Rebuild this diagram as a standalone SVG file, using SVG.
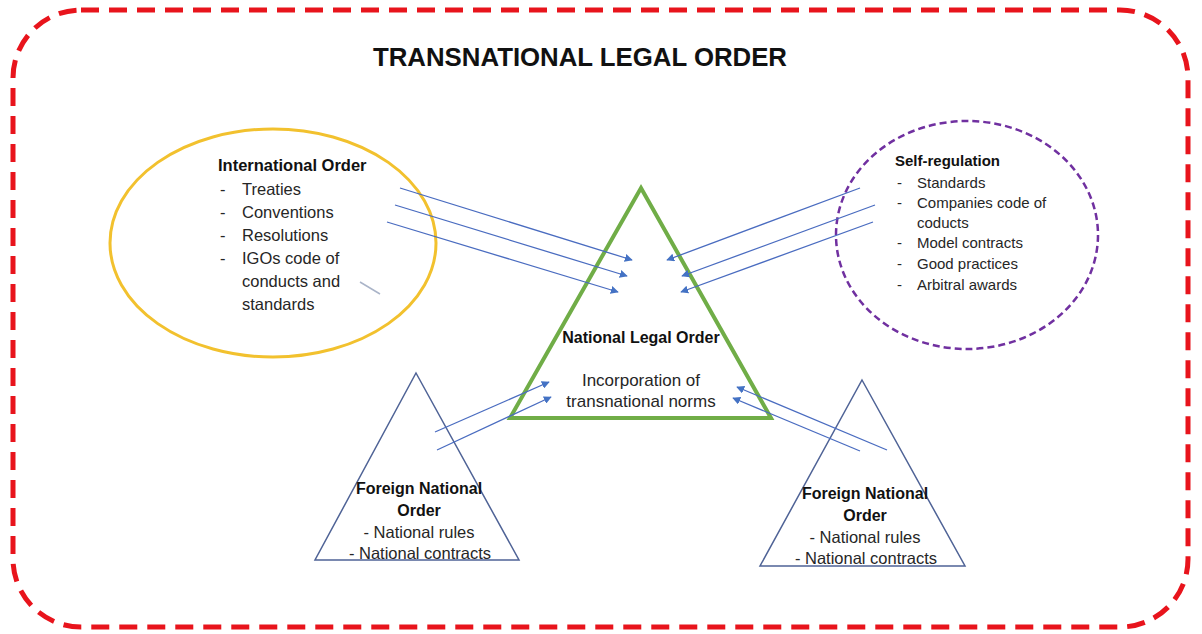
<svg xmlns="http://www.w3.org/2000/svg" width="1202" height="634" viewBox="0 0 1202 634">
<defs>
<marker id="ah" viewBox="0 0 10 10" refX="9" refY="5" markerWidth="8" markerHeight="8" markerUnits="userSpaceOnUse" orient="auto">
<path d="M0,0 L10,5 L0,10 z" fill="#4472c4"/>
</marker>
<style>
.t{font-family:"Liberation Sans",Arial,sans-serif;fill:#262626;}
.b{font-weight:bold;fill:#111;}
.c{stroke:#4a6cc0;stroke-width:1.3;fill:none;marker-end:url(#ah);}
.ft{fill:#fff;stroke:#4f6396;stroke-width:1.5;}
</style>
</defs>
<rect width="1202" height="634" fill="#fff"/>
<g id="outer">
<rect x="13" y="10" width="1175" height="617" rx="68" ry="68" fill="none" stroke="#e8141c" stroke-width="5" stroke-dasharray="18,10"/>
<text class="t b" x="580" y="66" font-size="26" text-anchor="middle" textLength="414" lengthAdjust="spacingAndGlyphs">TRANSNATIONAL LEGAL ORDER</text>
</g>
<g id="international">
<ellipse cx="273" cy="243" rx="163" ry="114" fill="none" stroke="#f2c12e" stroke-width="3"/>
<line x1="360" y1="282" x2="380" y2="294" stroke="#aab4c8" stroke-width="1.5"/>
<text class="t b" x="218" y="171" font-size="16.5">International Order</text>
<g class="t" font-size="16.5">
<text x="220" y="195">-</text><text x="242" y="195">Treaties</text>
<text x="220" y="218">-</text><text x="242" y="218">Conventions</text>
<text x="220" y="241">-</text><text x="242" y="241">Resolutions</text>
<text x="220" y="264">-</text><text x="242" y="264">IGOs code of</text>
<text x="242" y="287">conducts and</text>
<text x="242" y="310">standards</text>
</g>
</g>
<g id="selfregulation">
<ellipse cx="967" cy="235" rx="131" ry="114" fill="none" stroke="#7030a0" stroke-width="2.5" stroke-dasharray="7,4"/>
<text class="t b" x="895" y="166" font-size="15">Self-regulation</text>
<g class="t" font-size="15">
<text x="897" y="188">-</text><text x="917" y="188">Standards</text>
<text x="897" y="208">-</text><text x="917" y="208">Companies code of</text>
<text x="917" y="228">coducts</text>
<text x="897" y="248">-</text><text x="917" y="248">Model contracts</text>
<text x="897" y="269">-</text><text x="917" y="269">Good practices</text>
<text x="897" y="290">-</text><text x="917" y="290">Arbitral awards</text>
</g>
</g>
<g id="national">
<polygon points="641,188 771,418 510,418" fill="none" stroke="#70ad47" stroke-width="4" stroke-linejoin="miter"/>
<text class="t b" x="641" y="343" font-size="16" text-anchor="middle">National Legal Order</text>
<text class="t" x="641" y="386" font-size="17" text-anchor="middle">Incorporation of</text>
<text class="t" x="641" y="407" font-size="17" text-anchor="middle">transnational norms</text>
</g>
<g id="foreign-left">
<polygon class="ft" points="416,373 519,560 315,560" fill="none"/>
<text class="t b" x="419" y="494" font-size="16" text-anchor="middle">Foreign National</text>
<text class="t b" x="419" y="516" font-size="16" text-anchor="middle">Order</text>
<text class="t" x="419" y="538" font-size="16.5" text-anchor="middle">- National rules</text>
<text class="t" x="420" y="559" font-size="16.5" text-anchor="middle">- National contracts</text>
</g>
<g id="foreign-right">
<polygon class="ft" points="862,380 965,566 760,566" fill="none"/>
<text class="t b" x="865" y="499" font-size="16" text-anchor="middle">Foreign National</text>
<text class="t b" x="865" y="521" font-size="16" text-anchor="middle">Order</text>
<text class="t" x="865" y="543" font-size="16.5" text-anchor="middle">- National rules</text>
<text class="t" x="866" y="564" font-size="16.5" text-anchor="middle">- National contracts</text>
</g>
<g id="connectors">
<line class="c" x1="400" y1="188" x2="632" y2="260"/>
<line class="c" x1="395" y1="205" x2="627" y2="276"/>
<line class="c" x1="387" y1="222" x2="618" y2="292"/>
<line class="c" x1="860" y1="188" x2="667" y2="260"/>
<line class="c" x1="875" y1="205" x2="682" y2="276"/>
<line class="c" x1="873" y1="222" x2="681" y2="292"/>
<line class="c" x1="435" y1="432" x2="549" y2="382"/>
<line class="c" x1="437" y1="450" x2="551" y2="397"/>
<line class="c" x1="887" y1="450" x2="737" y2="387"/>
<line class="c" x1="860" y1="451" x2="733" y2="398"/>
</g>
</svg>
